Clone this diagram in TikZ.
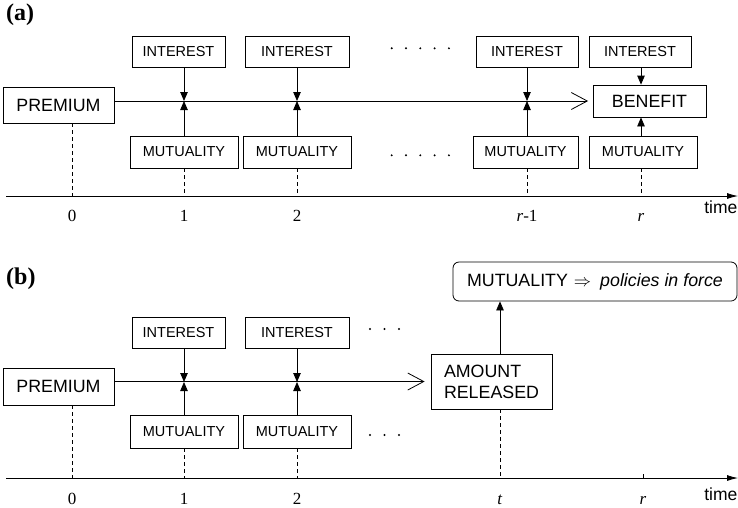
\documentclass[tikz,border=0pt]{standalone}
\usepackage{fontspec}
\setmainfont{Liberation Serif}
\setsansfont{Liberation Sans}
\usetikzlibrary{arrows.meta}

\begin{document}
\begin{tikzpicture}[x=1pt,y=-1pt,
  box/.style={draw, line width=0.8pt, inner sep=0pt, font=\sffamily\fontsize{14.5}{16}\selectfont},
  bigbox/.style={draw, line width=0.8pt, inner sep=0pt, font=\sffamily\fontsize{17.8}{21}\selectfont},
  flow/.style={line width=0.8pt, -{Straight Barb[length=16pt,width=17pt]}},
  feed/.style={line width=0.8pt, -{Triangle[length=9pt,width=7.5pt]}},
  axisline/.style={line width=0.8pt, -{Latex[length=11pt,width=6pt]}},
  guide/.style={line width=0.8pt, dash pattern=on 4pt off 3pt},
  ticklab/.style={font=\fontsize{17}{17}\selectfont, anchor=base, inner sep=0pt},
  panel/.style={font=\bfseries\fontsize{24}{24}\selectfont, anchor=base west, inner sep=0pt},
  timelab/.style={font=\sffamily\fontsize{17.5}{17.5}\selectfont, anchor=base east, inner sep=0pt}
]
\useasboundingbox (0,0) rectangle (738,507);

% ---------------- panel (a): single premium, benefit at time r
\node[panel] (pa) at (6,20) {(a)};
\node[bigbox, minimum width=111, minimum height=36] (premA) at (58.5,105) {PREMIUM};
\node[box, minimum width=93, minimum height=31] (intA1) at (178.5,51.5) {INTEREST};
\node[box, minimum width=104, minimum height=31] (intA2) at (297,51.5) {INTEREST};
\node[box, minimum width=102, minimum height=31] (intA3) at (527,51.5) {INTEREST};
\node[box, minimum width=102, minimum height=31] (intA4) at (640,51.5) {INTEREST};
\node[bigbox, minimum width=113, minimum height=32] (ben) at (649.5,101) {BENEFIT};
\node[box, minimum width=108, minimum height=32] (mutA1) at (184,152) {MUTUALITY};
\node[box, minimum width=108, minimum height=32] (mutA2) at (297,152) {MUTUALITY};
\node[box, minimum width=105, minimum height=32] (mutA3) at (525.5,152) {MUTUALITY};
\node[box, minimum width=108, minimum height=32] (mutA4) at (643,152) {MUTUALITY};

% points on the fund line and on the time axis
\coordinate (x1) at (184,101);
\coordinate (x2) at (297,101);
\coordinate (x3) at (527,101);
\coordinate (aS) at (6,196);
\coordinate (aE) at (738,196);
\coordinate (a0) at (72,196);
\coordinate (a1) at (184,196);
\coordinate (a2) at (297,196);
\coordinate (a3) at (527,196);
\coordinate (a4) at (641,196);

\draw[flow, shorten >=4.5pt] (premA.east |- ben.west) -- (ben.west);
\foreach \k in {1,2,3}{
  \draw[feed] (intA\k.south -| x\k) -- (x\k);
  \draw[feed] (mutA\k.north -| x\k) -- (x\k);
  \draw[guide] (mutA\k.south -| a\k) -- (a\k);
}
\draw[feed] (intA4.south -| a4) -- (ben.north -| a4);
\draw[feed] (mutA4.north -| a4) -- (ben.south -| a4);
\draw[guide] (mutA4.south -| a4) -- (a4);
\draw[guide] (premA.south -| a0) -- (a0);
\draw[axisline] (aS) -- (aE);

\node[ticklab] (la0) at (72,221) {0};
\node[ticklab] (la1) at (184,221) {1};
\node[ticklab] (la2) at (297,221) {2};
\node[ticklab] (la3) at (527,221) {\textit{r}-1};
\node[ticklab] (la4) at (641,221) {\textit{r}};
\node[timelab] (ta) at (737.5,213) {time};

\foreach \i in {0,...,4}{
  \fill (391.7+14.3*\i,48.3) circle[radius=1.1];
  \fill (391.7+14.3*\i,155.3) circle[radius=1.1];
}

% ---------------- panel (b): amount released at time t
\node[panel] (pb) at (6,284) {(b)};
\node[box, minimum width=93, minimum height=31] (intB1) at (178.5,332.5) {INTEREST};
\node[box, minimum width=104, minimum height=31] (intB2) at (297,332.5) {INTEREST};
\node[bigbox, minimum width=111, minimum height=37] (premB) at (58.5,386.5) {PREMIUM};
\node[box, minimum width=108, minimum height=33] (mutB1) at (184,431.5) {MUTUALITY};
\node[box, minimum width=108, minimum height=33] (mutB2) at (297,431.5) {MUTUALITY};
\node[bigbox, minimum width=121, minimum height=55, align=left] (amt) at (491.5,381.5) {AMOUNT\\RELEASED};
\node[bigbox, rounded corners=6pt, minimum width=284, minimum height=39] (pol) at (595,281.5)
  {MUTUALITY\hspace{6pt}{\fontsize{17}{17}\selectfont$\Rightarrow$}\hspace{9pt}\textit{policies in force}};

\coordinate (y1) at (184,382);
\coordinate (y2) at (297,382);
\coordinate (bS) at (6,478);
\coordinate (bE) at (738,478);
\coordinate (b0) at (72,478);
\coordinate (b1) at (184,478);
\coordinate (b2) at (297,478);
\coordinate (bt) at (500,478);
\coordinate (br) at (643,478);

\draw[flow, shorten >=6pt] (premB.east |- amt.west) -- (amt.west);
\foreach \k in {1,2}{
  \draw[feed] (intB\k.south -| y\k) -- (y\k);
  \draw[feed] (mutB\k.north -| y\k) -- (y\k);
  \draw[guide] (mutB\k.south -| b\k) -- (b\k);
}
\draw[feed] (amt.north -| bt) -- (pol.south -| bt);
\draw[guide] (amt.south -| bt) -- (bt);
\draw[guide] (premB.south -| b0) -- (b0);
\draw[axisline] (bS) -- (bE);
\draw[line width=0.8pt] (br) -- ++(0,-4);

\node[ticklab] (lb0) at (72,504) {0};
\node[ticklab] (lb1) at (184,504) {1};
\node[ticklab] (lb2) at (297,504) {2};
\node[ticklab] (lbt) at (500,504) {\textit{t}};
\node[ticklab] (lbr) at (643,504) {\textit{r}};
\node[timelab] (tb) at (737.5,500) {time};

\foreach \i in {0,...,2}{
  \fill (370+14.5*\i,329) circle[radius=1.1];
  \fill (370+14.5*\i,435) circle[radius=1.1];
}
\end{tikzpicture}
\end{document}
